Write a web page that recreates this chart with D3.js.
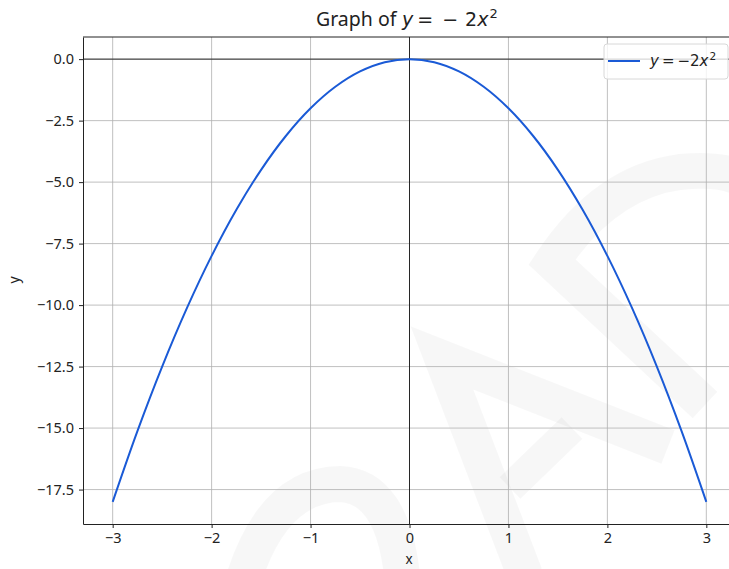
<!DOCTYPE html>
<html><head><meta charset="utf-8">
<script src="https://cdn.jsdelivr.net/npm/d3@7"></script>
<style>
body{margin:0;background:#fff;overflow:hidden}
svg{display:block}
text{font-family:"Noto Sans","DejaVu Sans",sans-serif;fill:#222}
tspan.m{font-family:"DejaVu Sans",sans-serif}
</style></head><body>
<svg id="c" width="729" height="569"></svg>
<script>
const xValues = [-3,-2.75,-2.5,-2.25,-2,-1.75,-1.5,-1.25,-1,-0.75,-0.5,-0.25,0,0.25,0.5,0.75,1,1.25,1.5,1.75,2,2.25,2.5,2.75,3];
const yValues = [-18,-15.125,-12.5,-10.125,-8,-6.125,-4.5,-3.125,-2,-1.125,-0.5,-0.125,0,-0.125,-0.5,-1.125,-2,-3.125,-4.5,-6.125,-8,-10.125,-12.5,-15.125,-18];
const xTicks = [-3,-2,-1,0,1,2,3];
const yTicks = [0,-2.5,-5,-7.5,-10,-12.5,-15,-17.5];
const titleText = "Graph of";

const svg = d3.select("#c");
const L = 83, R = 736, T = 37, B = 524;
const x = d3.scaleLinear().domain([-3.3, 3.3]).range([L, R]);
const y = d3.scaleLinear().domain([-18.9, 0.9]).range([B, T]);

// faint watermark strokes (background decoration)
const wm = svg.append("g").attr("fill", "none").attr("stroke", "#000").attr("stroke-opacity", 0.03)
  .attr("stroke-width", 36).attr("stroke-linejoin", "miter");
wm.append("path").attr("d", "M 245 575 Q 275 485 340 484 Q 392 486 402 575");
wm.append("path").attr("d", "M 525 575 L 442 358 L 668 447");
wm.append("path").attr("d", "M 510 488 L 572 428").attr("stroke-width", 30);
wm.append("path").attr("d", "M 705 405 L 552 262 Q 605 182 680 172 Q 720 168 740 178");

// grid
const g = svg.append("g");
g.selectAll(".gx").data(xTicks).join("line")
  .attr("x1", d => x(d)).attr("x2", d => x(d)).attr("y1", T).attr("y2", B)
  .attr("stroke", "#b0b0b0").attr("stroke-width", 0.8);
g.selectAll(".gy").data(yTicks).join("line")
  .attr("x1", L).attr("x2", R).attr("y1", d => y(d)).attr("y2", d => y(d))
  .attr("stroke", "#b0b0b0").attr("stroke-width", 0.8);

// zero lines
svg.append("line").attr("x1", L).attr("x2", R).attr("y1", y(0)).attr("y2", y(0)).attr("stroke", "#000").attr("stroke-width", 0.8);
svg.append("line").attr("x1", x(0)).attr("x2", x(0)).attr("y1", T).attr("y2", B).attr("stroke", "#000").attr("stroke-width", 0.8);

// curve
const pts = xValues.map((v, i) => [v, yValues[i]]);
svg.append("path").datum(pts)
  .attr("d", d3.line().x(d => x(d[0])).y(d => y(d[1])).curve(d3.curveCatmullRom))
  .attr("fill", "none").attr("stroke", "#1a5ad6").attr("stroke-width", 2);

// axes
const ax = svg.append("g").attr("transform", `translate(0,${B})`)
  .call(d3.axisBottom(x).tickValues(xTicks).tickSize(4).tickSizeOuter(0).tickPadding(5).tickFormat(d => d < 0 ? "−" + Math.abs(d) : d));
const ay = svg.append("g").attr("transform", `translate(${L},0)`)
  .call(d3.axisLeft(y).tickValues(yTicks).tickSize(4).tickSizeOuter(0).tickPadding(5).tickFormat(d => (d < 0 ? "−" : "") + Math.abs(d).toFixed(1)));
[ax, ay].forEach(a => {
  a.select(".domain").attr("stroke", "#222").attr("stroke-width", 1);
  a.selectAll(".tick line").attr("stroke", "#222");
  a.selectAll("text").attr("font-size", 14.5).attr("fill", "#222").style("font-family", '"Noto Sans",sans-serif');
});
// top & right spines
svg.append("line").attr("x1", L).attr("x2", R).attr("y1", T).attr("y2", T).attr("stroke", "#222").attr("stroke-width", 1);
svg.append("line").attr("x1", R).attr("x2", R).attr("y1", T).attr("y2", B).attr("stroke", "#222").attr("stroke-width", 1);

// labels
svg.append("text").attr("x", 409).attr("y", 564).attr("text-anchor", "middle").attr("font-size", 13.5).text("x");
svg.append("text").attr("transform", "translate(19,280) rotate(-90)").attr("text-anchor", "middle").attr("font-size", 14).text("y");

// title
const tt = svg.append("text").attr("y", 26).attr("font-size", 19.5);
tt.append("tspan").attr("x", 316).text(titleText);
tt.append("tspan").attr("class", "m").attr("font-size", 19).attr("x", 402).attr("font-style", "italic").text("y");
tt.append("tspan").attr("class", "m").attr("font-size", 19).attr("dx", 4).text("=");
tt.append("tspan").attr("class", "m").attr("font-size", 19).attr("dx", 9).text("−");
tt.append("tspan").attr("class", "m").attr("font-size", 19).attr("dx", 7).text("2");
tt.append("tspan").attr("class", "m").attr("font-size", 19).attr("font-style", "italic").text("x");
tt.append("tspan").attr("class", "m").attr("font-size", 13).attr("dx", 1).attr("dy", -8).text("2");

// legend
svg.append("rect").attr("x", 604).attr("y", 44).attr("width", 124).attr("height", 35).attr("rx", 3)
  .attr("fill", "#fff").attr("fill-opacity", 0.8).attr("stroke", "#d8d8d8");
svg.append("line").attr("x1", 608).attr("x2", 640).attr("y1", 61).attr("y2", 61).attr("stroke", "#1a5ad6").attr("stroke-width", 2);
const lt = svg.append("text").attr("y", 66).attr("font-size", 15);
lt.append("tspan").attr("class", "m").attr("x", 650).attr("font-style", "italic").text("y");
lt.append("tspan").attr("class", "m").attr("dx", 3).text("=");
lt.append("tspan").attr("class", "m").attr("dx", 3).text("−");
lt.append("tspan").attr("class", "m").attr("dx", 0).text("2");
lt.append("tspan").attr("class", "m").attr("font-style", "italic").text("x");
lt.append("tspan").attr("class", "m").attr("font-size", 10.5).attr("dx", 1).attr("dy", -6).text("2");
</script></body></html>
